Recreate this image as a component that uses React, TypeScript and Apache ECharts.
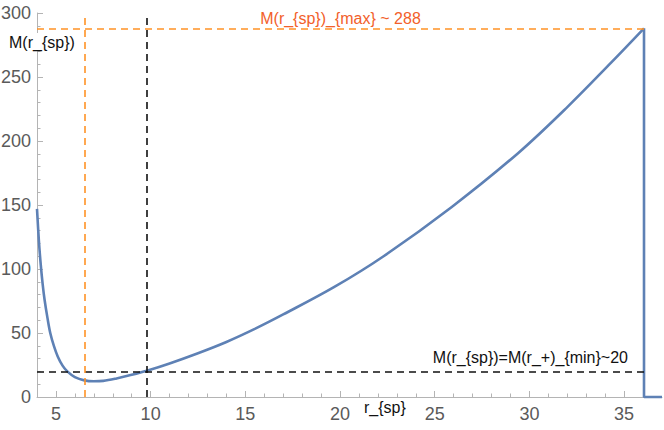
import React, { useEffect, useRef } from "react";
import * as echarts from "echarts";

// curve M(r_sp)
const rValues = [4.0, 4.1, 4.2, 4.3, 4.4, 4.55, 4.7, 4.9, 5.1, 5.35, 5.6, 6.0, 6.5, 7.0, 7.5, 8.2, 9.0, 9.8, 11, 12.5, 14, 15.5, 17, 19.7, 22.3, 25.9, 29.4, 32, 34.3, 36.05];
const mValues = [147, 122, 103, 88, 76, 62, 50, 39.5, 31.5, 24.5, 20, 15.5, 13, 12.3, 12.6, 14.5, 17.3, 20.5, 26.2, 34.2, 43, 53.2, 64.5, 86, 110, 148.5, 190.5, 226.5, 261, 288];
// vertical drop after the maximum
const dropR = [36.05, 36.05, 37];
const dropM = [288, 0, 0];

const xLabelTicks = [5, 10, 15, 20, 25, 30, 35];
const xMinorTicks = [5, 6, 7, 8, 9, 10, 11, 12, 13, 14, 15, 16, 17, 18, 19, 20, 21, 22, 23, 24, 25, 26, 27, 28, 29, 30, 31, 32, 33, 34, 35, 36];

const rMin = 4;
const rMax = 37;
const mMaxValue = 288;
const mMinValue = 20;
const rOrange = 6.53;
const rBlack = 9.81;
const rEnd = 36.05;

const labelMax = "M(r_{sp})_{max} ~ 288";
const labelMin = "M(r_{sp})=M(r_+)_{min}~20";
const yName = "M(r_{sp})";
const xName = "r_{sp}";

const FONT = "'Liberation Sans', Arial, sans-serif";

export default function App() {
  const ref = useRef<HTMLDivElement>(null);
  useEffect(() => {
    document.body.style.margin = "0";
    const chart = echarts.init(ref.current!, null, { renderer: "svg" });
    const axisColor = "#b4b4b4";
    const labelColor = "#5a5a5a";
    const orange = "#ff9326";
    const dash = [7, 5];
    chart.setOption({
      animation: false,
      textStyle: { fontFamily: FONT },
      grid: { left: 37, right: 2, top: 13, bottom: 33, outerBoundsMode: "none" },
      xAxis: [
        {
          type: "value",
          min: rMin,
          max: rMax,
          axisLine: { show: true, onZero: false, lineStyle: { color: axisColor, width: 1 } },
          axisTick: { show: true, inside: true, length: 6, customValues: xLabelTicks, lineStyle: { color: axisColor } },
          axisLabel: { customValues: xLabelTicks, color: labelColor, fontSize: 18, margin: 8, fontFamily: FONT },
          splitLine: { show: false },
        },
        {
          type: "value",
          min: rMin,
          max: rMax,
          position: "bottom",
          axisLine: { show: false },
          axisTick: { show: true, inside: true, length: 3.5, customValues: xMinorTicks, lineStyle: { color: axisColor } },
          axisLabel: { show: false },
          splitLine: { show: false },
        },
      ],
      yAxis: {
        type: "value",
        min: 0,
        max: 300,
        interval: 50,
        axisLine: { show: true, lineStyle: { color: axisColor, width: 1 } },
        axisTick: { show: true, inside: true, length: 6, lineStyle: { color: axisColor } },
        minorTick: { show: true, splitNumber: 5, length: 3.5, lineStyle: { color: axisColor } },
        axisLabel: { color: labelColor, fontSize: 18, margin: 6, fontFamily: FONT },
        splitLine: { show: false },
      },
      series: [
        {
          type: "line",
          xAxisIndex: 0,
          data: rValues.map((r, i) => [r, mValues[i]]),
          smooth: 0.35,
          showSymbol: false,
          lineStyle: { color: "#5e81b5", width: 2.6 },
          z: 3,
          markLine: {
            silent: true,
            symbol: ["none", "none"],
            animation: false,
            data: [
              [
                {
                  coord: [rMin, mMaxValue],
                  lineStyle: { color: orange, type: dash, width: 1.6 },
                  label: {
                    show: true,
                    position: "insideMiddleTop",
                    formatter: labelMax,
                    color: "#f2602a",
                    fontSize: 16,
                    fontFamily: FONT,
                    distance: 2,
                  },
                },
                { coord: [rEnd, mMaxValue] },
              ],
              [
                {
                  coord: [rMin, mMinValue],
                  lineStyle: { color: "#111", type: dash, width: 1.6 },
                  label: {
                    show: true,
                    position: "insideEndTop",
                    formatter: labelMin,
                    color: "#111",
                    fontSize: 16,
                    fontFamily: FONT,
                    distance: [16, 6],
                  },
                },
                { coord: [rEnd, mMinValue] },
              ],
              [
                { coord: [rOrange, 0], lineStyle: { color: orange, type: dash, width: 1.6 }, label: { show: false } },
                { coord: [rOrange, 300] },
              ],
              [
                { coord: [rBlack, 0], lineStyle: { color: "#111", type: dash, width: 1.6 }, label: { show: false } },
                { coord: [rBlack, 300] },
              ],
            ],
          },
        },
        {
          type: "line",
          xAxisIndex: 0,
          data: dropR.map((r, i) => [r, dropM[i]]),
          showSymbol: false,
          clip: false,
          lineStyle: { color: "#5e81b5", width: 2.6 },
          z: 3,
        },
      ],
      graphic: [
        {
          type: "text",
          left: 8,
          top: 33,
          z: 10,
          style: {
            text: yName,
            fontSize: 16,
            fontFamily: FONT,
            fill: "#111",
            backgroundColor: "#fff",
            padding: [1, 1],
          },
        },
        {
          type: "text",
          left: 364,
          top: 399,
          z: 10,
          style: {
            text: xName,
            fontSize: 16,
            fontFamily: FONT,
            fill: "#111",
          },
        },
      ],
    });
    return () => chart.dispose();
  }, []);
  return <div ref={ref} style={{ width: 664, height: 430 }} />;
}
